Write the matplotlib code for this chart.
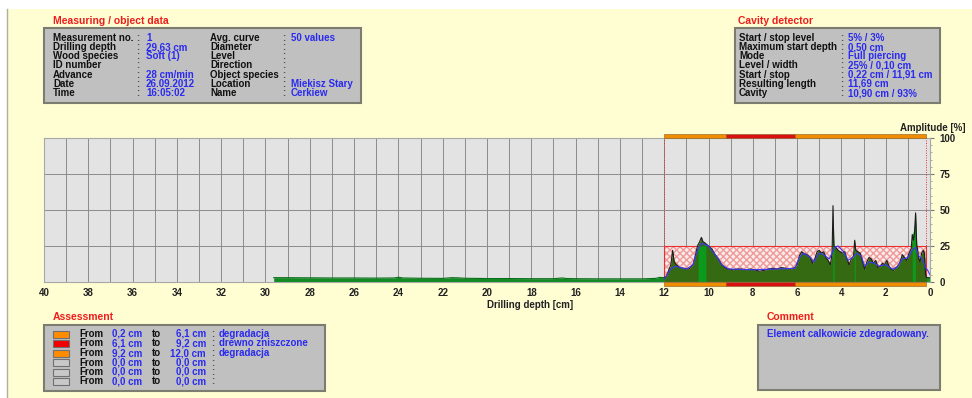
import numpy as np
import matplotlib.pyplot as plt
from matplotlib.patches import Rectangle
from matplotlib.ticker import MultipleLocator

# ---- data ----
meas_labels = ["Measurement no.", "Drilling depth", "Wood species", "ID number", "Advance", "Date", "Time"]
meas_values = ["1", "29,63 cm", "Soft (1)", "", "28 cm/min", "26.09.2012", "16:05:02"]
meas_labels2 = ["Avg. curve", "Diameter", "Level", "Direction", "Object species", "Location", "Name"]
meas_values2 = ["50 values", "", "", "", "", "Miekisz Stary", "Cerkiew"]

cav_labels = ["Start / stop level", "Maximum start depth", "Mode", "Level / width",
              "Start / stop", "Resulting length", "Cavity"]
cav_values = ["5% / 3%", "0,50 cm", "Full piercing", "25% / 0,10 cm",
              "0,22 cm / 11,91 cm", "11,69 cm", "10,90 cm / 93%"]

assess_from = [0.2, 6.1, 9.2, 0.0, 0.0, 0.0]
assess_to = [6.1, 9.2, 12.0, 0.0, 0.0, 0.0]
assess_desc = ["degradacja", "drewno zniszczone", "degradacja", "", "", ""]
assess_colors = ["#ff8c00", "#f00000", "#ff8c00", "#c8c8c8", "#c8c8c8", "#c8c8c8"]

comment = "Element calkowicie zdegradowany."

# amplitude before the cavity (29.63 .. 12 cm)
low_x = [29.63, 29.0, 28.0, 27.0, 26.0, 25.0, 24.2, 24.0, 23.8, 23.0, 22.0, 21.6, 21.3,
         21.0, 20.0, 19.0, 18.0, 17.0, 16.6, 16.4, 16.0, 15.0, 14.0, 13.0, 12.4, 12.2, 12.0]
low_y = [3.0, 3.0, 2.9, 2.8, 2.8, 2.7, 2.8, 3.3, 2.8, 2.6, 2.5, 3.0, 2.9,
         2.6, 2.4, 2.4, 2.3, 2.3, 2.8, 2.4, 2.3, 2.2, 2.2, 2.2, 2.5, 3.2, 3.0]

# amplitude in the cavity zone (12 .. 0 cm)
cav_x = [12.0, 11.9, 11.8, 11.7, 11.62, 11.55, 11.45, 11.3, 11.1, 10.9, 10.8, 10.7, 10.6,
         10.5, 10.4, 10.32, 10.25, 10.15, 10.0, 9.85, 9.7, 9.55, 9.4, 9.25, 9.1, 8.9, 8.7,
         8.5, 8.3, 8.1, 7.9, 7.7, 7.5, 7.3, 7.1, 6.9, 6.7, 6.5, 6.3, 6.1, 6.0, 5.9, 5.8,
         5.7, 5.55, 5.4, 5.3, 5.2, 5.1, 5.0, 4.9, 4.8, 4.7, 4.6, 4.5, 4.42, 4.38, 4.34,
         4.25, 4.15, 4.05, 3.95, 3.85, 3.75, 3.65, 3.55, 3.45, 3.4, 3.35, 3.25, 3.15, 3.05,
         2.95, 2.85, 2.75, 2.65, 2.55, 2.45, 2.35, 2.25, 2.15, 2.05, 1.95, 1.85, 1.75,
         1.65, 1.55, 1.45, 1.35, 1.25, 1.15, 1.05, 0.95, 0.85, 0.8, 0.75, 0.7, 0.65, 0.6,
         0.5, 0.45, 0.38, 0.3, 0.25, 0.2, 0.15, 0.0]
cav_y = [3, 4, 8, 12, 22, 14, 12, 10, 9.5, 9, 10, 12, 18,
         25, 28, 31, 28, 27, 25, 23, 19, 16, 12, 10, 9, 8.5, 9,
         9, 8.5, 9, 8.5, 7.5, 8, 9, 9.5, 9, 10, 9.5, 9, 10, 12, 18, 21,
         20, 19, 17, 13, 16, 21, 22, 20, 21, 17, 15, 12, 20, 53, 25,
         24, 22, 21, 20, 21, 16, 12, 16, 18, 29, 22, 21, 20, 14,
         9, 14, 17, 16, 13, 15, 10, 11, 13, 12, 15, 11, 9,
         8, 10, 11, 14, 19, 17, 15, 20, 23, 33, 29, 34, 48, 26,
         16, 14, 20, 22, 20, 5, 3, 3]

# averaged curve (blue)
avg_x = [12.0, 11.7, 11.5, 11.0, 10.7, 10.5, 10.3, 10.0, 9.7, 9.4, 9.1, 8.0, 7.0, 6.1,
         5.9, 5.7, 5.4, 5.25, 5.0, 4.8, 4.55, 4.3, 4.15, 3.9, 3.7, 3.5, 3.3, 3.1, 2.95,
         2.75, 2.5, 2.3, 2.0, 1.7, 1.5, 1.25, 1.0, 0.8, 0.65, 0.5, 0.35, 0.2, 0.1, 0.0]
avg_y = [2, 9, 11, 9, 12, 22, 27, 25, 19, 12, 9, 8.5, 9, 9.5,
         17, 20, 17, 14, 20, 19, 16, 24, 25, 21, 15, 17, 20, 18, 11,
         14, 13, 11, 12, 9, 10, 16, 17, 22, 24, 18, 16, 10, 8, 5]

# bright green marked sections
green_bands = [(10.47, 10.12), (4.39, 4.33), (3.42, 3.37), (0.8, 0.66), (0.15, 0.0)]

# assessment segments shown as bars above/below the plot
seg_start = [12.0, 9.2, 6.1]
seg_end = [9.2, 6.1, 0.2]
seg_color = ["#f08c00", "#d81010", "#f08c00"]

x_ticks = list(range(0, 41, 2))
y_ticks = [0, 25, 50, 75, 100]

# ---- figure ----
W, H = 972, 398
fig = plt.figure(figsize=(W / 100, H / 100), dpi=100, facecolor="white")
fig.add_artist(Rectangle((7 / W, 0), 1, 1 - 9 / H, transform=fig.transFigure,
                         fc="#fffdd2", ec="none", zorder=-10))
fig.add_artist(plt.Line2D([7 / W, 7 / W], [0, 1 - 9 / H], transform=fig.transFigure,
                          color="#b0b0a0", lw=1, zorder=-9))

FONT = "Liberation Sans"
BLUE = "#2a2af0"
RED = "#ee1c1c"


def txt(x, y, s, color="#111111", size=7, ha="left"):
    fig.text(x / W, 1 - y / H, s, color=color, fontsize=size, fontweight="bold",
             family=FONT, ha=ha, va="center")


def box(x0, y0, x1, y1):
    fig.add_artist(Rectangle((x0 / W, 1 - y1 / H), (x1 - x0) / W, (y1 - y0) / H,
                             transform=fig.transFigure, fc="#c0c0c0", ec="#7c7c70", lw=1.5))


# measuring panel
txt(53, 21, "Measuring / object data", RED, 7.5)
box(44, 28, 361, 103)
rows = [38, 47, 56, 65.5, 74.5, 84, 93]
for i, r in enumerate(rows):
    txt(53, r, meas_labels[i])
    txt(136, r, ":", "#555")
    txt(146, r, meas_values[i], BLUE)
    txt(210, r, meas_labels2[i])
    txt(282, r, ":", "#555")
    txt(291, r, meas_values2[i], BLUE)

# cavity panel
txt(738, 21, "Cavity detector", RED, 7.5)
box(735, 28, 940, 103)
for i, r in enumerate(rows):
    txt(739, r, cav_labels[i])
    txt(840, r, ":", "#555")
    txt(848, r, cav_values[i], BLUE)

# assessment panel
txt(53, 317, "Assessment", RED, 7.5)
box(44, 325, 325, 391)
arows = [334, 343.5, 353, 362.5, 372, 381]
for i, r in enumerate(arows):
    fig.add_artist(Rectangle((53 / W, 1 - (r + 3.5) / H), 16 / W, 7 / H,
                             transform=fig.transFigure, fc=assess_colors[i],
                             ec="#707070", lw=0.8))
    txt(79, r, "From")
    txt(142, r, ("%.1f cm" % assess_from[i]).replace(".", ","), BLUE, ha="right")
    txt(152, r, "to")
    txt(206, r, ("%.1f cm" % assess_to[i]).replace(".", ","), BLUE, ha="right")
    txt(211, r, ":", "#555")
    txt(219, r, assess_desc[i], BLUE)

# comment panel
txt(767, 317, "Comment", RED, 7.5)
box(758, 325, 940, 390)
txt(767, 334, comment, BLUE)

# ---- main plot ----
ax = fig.add_axes([44 / W, 116 / H, (930 - 44) / W, (282 - 138) / H])
ax.set_facecolor("#e3e3e3")
ax.set_xlim(40, 0)
ax.set_ylim(0, 100)
ax.set_xticks(x_ticks)
ax.xaxis.set_minor_locator(MultipleLocator(1))
ax.set_yticks(y_ticks)
ax.yaxis.set_minor_locator(MultipleLocator(5))
ax.yaxis.tick_right()
ax.grid(True, which="both", axis="x", color="#8c8c8c", lw=0.7)
ax.grid(True, which="major", axis="y", color="#8c8c8c", lw=0.7)
ax.set_axisbelow(True)
ax.tick_params(axis="x", which="both", length=0, pad=4)
ax.tick_params(axis="y", which="major", length=3, pad=4, color="#777")
ax.tick_params(axis="y", which="minor", length=1.5, color="#999")
for lab in ax.get_xticklabels() + ax.get_yticklabels():
    lab.set_fontfamily(FONT)
    lab.set_fontweight("bold")
    lab.set_fontsize(7)
    lab.set_color("#222")
for s in ax.spines.values():
    s.set_color("#a8a8a8")
    s.set_linewidth(0.8)

# cavity level rectangle (hatched)
ax.add_patch(Rectangle((0.2, 0), 11.8, 25, fc="#fbeaea", ec="#ef9a9a", hatch="xxxxx",
                       lw=0, zorder=1))
ax.add_patch(Rectangle((0.2, 0), 11.8, 25, fill=False, ec="#e83030", lw=0.8, zorder=1.1))
for xv in (12.0, 0.2):
    ax.axvline(xv, color="#e03030", lw=0.7, ls=(0, (1, 1.5)), zorder=1.2)

# signal
ax.fill_between(low_x, 0, low_y, color="#118a22", lw=0, zorder=2)
ax.plot(low_x, low_y, color="#0a6e18", lw=0.8, zorder=2.1)
ax.fill_between(cav_x, 0, cav_y, color="#356a12", lw=0, zorder=2)
cx = np.array(cav_x)[::-1]
cy = np.array(cav_y)[::-1]
for b0, b1 in green_bands:
    xs = np.array([b1, b0])
    ax.fill_between(xs, 0, np.interp(xs, cx, cy) * 0.95, color="#0c9a1c", lw=0, zorder=2.2)
ax.plot(cav_x, cav_y, color="#1c1c1c", lw=0.8, zorder=2.3)
ax.plot(avg_x, avg_y, color="#3a3af5", lw=0.8, zorder=2.4)

# assessment bars
for a, b, c in zip(seg_start, seg_end, seg_color):
    ax.add_patch(Rectangle((b, 100.3), a - b, 2.8, fc=c, ec="#8a5a20", lw=0.4,
                           clip_on=False, zorder=3))
    ax.add_patch(Rectangle((b, -2.8), a - b, 2.8, fc=c, ec="#8a5a20", lw=0.4,
                           clip_on=False, zorder=3))

txt(487, 305, "Drilling depth [cm]", "#222")
txt(965, 128, "Amplitude [%]", "#222", ha="right")

fig.savefig("out.png", dpi=100, facecolor=fig.get_facecolor())
